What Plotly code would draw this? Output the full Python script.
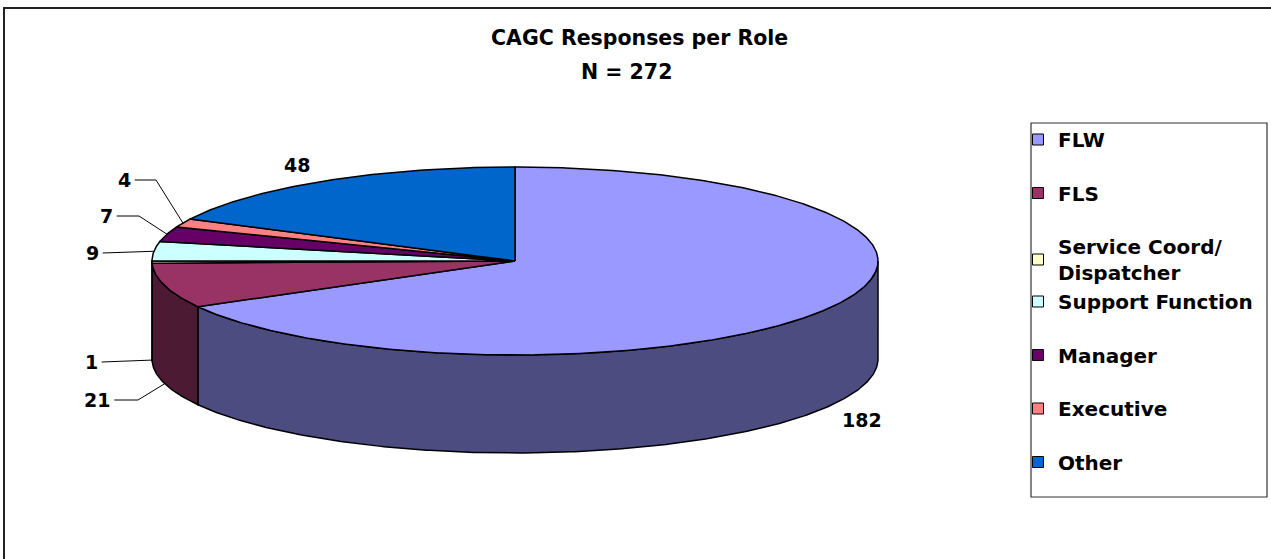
import numpy as np
import plotly.graph_objects as go

# ---------------- data ----------------
roles = ["FLW", "FLS", "Service Coord/<br>Dispatcher", "Support Function",
         "Manager", "Executive", "Other"]
counts = [182, 21, 1, 9, 7, 4, 48]
top_colors = ["#9999FF", "#993366", "#FFFFCC", "#CCFFFF", "#660066", "#FF8080", "#0066CC"]
side_colors = ["#4C4C80", "#4D1A33", "#808066", "#668080", "#330033", "#804040", "#003366"]
title_text = "CAGC Responses per Role"
subtitle_text = "N = 272"

# ---------------- layout constants (pixels) ----------------
W, H = 1271, 559
CX, CY, RX, RY, DEPTH = 515, 261, 363, 94, 98
FONT = "DejaVu Sans"
# data-label placement (layout only)
label_x = [862, 97, 91, 92, 106, 124, 297]
label_y = [420, 400, 362, 253, 216, 180, 165]
elbow_x = [None, 138, None, None, 139, 156, None]
legend_group = ["g1", "g2", "g3", "g3", "g4", "g5", "g6"]


def ell(theta_deg, dy=0.0):
    t = np.radians(theta_deg)
    return CX + RX * np.sin(t), CY - RY * np.cos(t) + dy


total = float(sum(counts))
bounds = np.concatenate([[0.0], np.cumsum(counts) / total * 360.0])

fig = go.Figure()

# ---- side walls (only front half, 90..270 deg clockwise from 12 o'clock) ----
for i in range(len(counts)):
    a0, a1 = bounds[i], bounds[i + 1]
    s, e = max(a0, 90.0), min(a1, 270.0)
    if e <= s:
        continue
    th = np.linspace(s, e, max(int((e - s) * 2), 2))
    xt, yt = ell(th)
    xb, yb = ell(th[::-1], DEPTH)
    xs = np.concatenate([xt, xb, xt[:1]])
    ys = np.concatenate([yt, yb, yt[:1]])
    fig.add_trace(go.Scatter(x=xs, y=ys, mode="lines", fill="toself",
                             fillcolor=side_colors[i],
                             line=dict(color="black", width=1.5),
                             showlegend=False, hoverinfo="skip"))

# ---- top faces ----
for i in range(len(counts)):
    a0, a1 = bounds[i], bounds[i + 1]
    th = np.linspace(a0, a1, max(int((a1 - a0) * 2), 2))
    xa, ya = ell(th)
    xs = np.concatenate([[CX], xa, [CX]])
    ys = np.concatenate([[CY], ya, [CY]])
    fig.add_trace(go.Scatter(x=xs, y=ys, mode="lines", fill="toself",
                             fillcolor=top_colors[i],
                             line=dict(color="black", width=1.5),
                             showlegend=False, hoverinfo="skip"))

# ---- data labels with leader lines ----
for i in range(len(counts)):
    mid = (bounds[i] + bounds[i + 1]) / 2.0
    dy = DEPTH if 90.0 <= mid <= 270.0 else 0.0
    ax_, ay_ = ell(mid, dy)
    txt = str(counts[i])
    fig.add_annotation(x=label_x[i], y=label_y[i], text=txt, showarrow=False,
                       font=dict(family=FONT, size=19, color="black", weight="bold"),
                       xanchor="center", yanchor="middle")
    if 1 <= i <= 5:
        half_w = 0.35 * 19 * len(txt)
        x_start = label_x[i] + half_w + 4
        if elbow_x[i] is not None:
            lx = [x_start, elbow_x[i], ax_]
            ly = [label_y[i], label_y[i], ay_]
        else:
            lx = [x_start, ax_]
            ly = [label_y[i], ay_]
        fig.add_trace(go.Scatter(x=lx, y=ly, mode="lines",
                                 line=dict(color="black", width=1),
                                 showlegend=False, hoverinfo="skip"))

# ---- legend entries ----
for i in range(len(counts)):
    fig.add_trace(go.Scatter(x=[None], y=[None], mode="markers", name=roles[i],
                             legendgroup=legend_group[i],
                             marker=dict(symbol="square", size=11, color=top_colors[i],
                                         line=dict(color="black", width=1)),
                             showlegend=True, hoverinfo="skip"))

# ---- title ----
fig.add_annotation(x=639, y=38, text=title_text, showarrow=False,
                   font=dict(family=FONT, size=20.5, color="black", weight="bold"),
                   xanchor="center", yanchor="middle")
fig.add_annotation(x=626, y=72, text=subtitle_text, showarrow=False,
                   font=dict(family=FONT, size=20.5, color="black", weight="bold"),
                   xanchor="center", yanchor="middle")

# ---- frames ----
fig.add_shape(type="rect", x0=4, y0=8, x1=W + 20, y1=H + 20,
              line=dict(color="#222222", width=2), layer="above")
fig.add_shape(type="rect", x0=1031, y0=123, x1=1267, y1=497,
              line=dict(color="#333333", width=1.2), layer="above")

fig.update_layout(
    width=W, height=H,
    margin=dict(l=0, r=0, t=0, b=0),
    paper_bgcolor="white", plot_bgcolor="white",
    hovermode=False,
    xaxis=dict(range=[0, W], visible=False, fixedrange=True),
    yaxis=dict(range=[H, 0], visible=False, fixedrange=True),
    legend=dict(x=(1058 - 40) / W, xanchor="left",
                y=1 - 120 / H, yanchor="top",
                font=dict(family=FONT, size=20, color="black", weight="bold"),
                tracegroupgap=24.5, bgcolor="rgba(0,0,0,0)", borderwidth=0,
                traceorder="grouped"),
)

fig.write_html("out.html")
